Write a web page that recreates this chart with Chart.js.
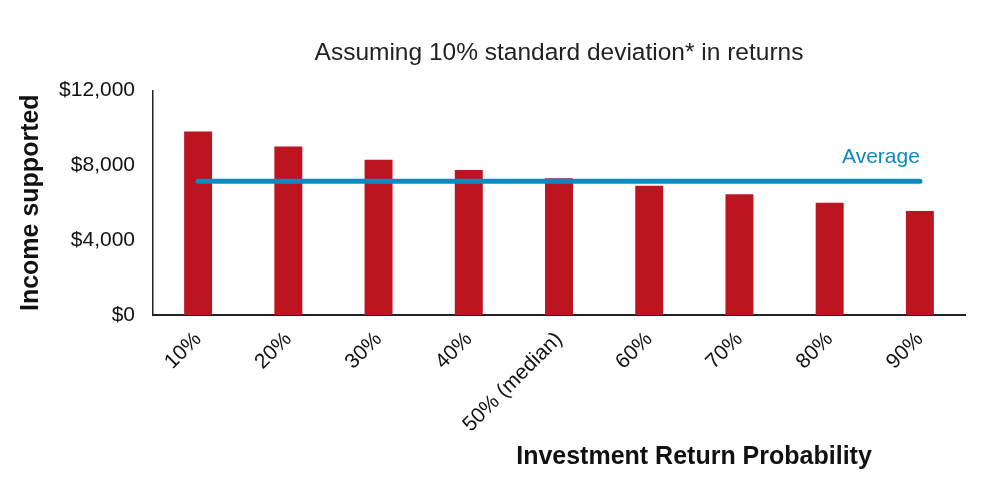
<!DOCTYPE html>
<html>
<head>
<meta charset="utf-8">
<script src="https://cdn.jsdelivr.net/npm/chart.js@4"></script>
<style>
  body { margin: 0; background: #fff; }
  #wrap { width: 1000px; height: 502px; }
</style>
</head>
<body>
<div id="wrap"><canvas id="income-chart"></canvas></div>
<script>
/* Data */
let probabilities = ['10%', '20%', '30%', '40%', '50% (median)', '60%', '70%', '80%', '90%']
let incomeSupported = [9800, 9000, 8300, 7750, 7300, 6900, 6450, 6000, 5550]
let averageIncome = 7150
let yTicks = [0, 4000, 8000, 12000]

let averageLine = probabilities.map(() => averageIncome)

let barRed = '#bd1520'
let averageBlue = '#0b8ac0'

// writes "Average" just above the right end of the average line
let averageLabel = {
    id: 'averageLabel',
    afterDatasetsDraw(chart) {
        let meta = chart.getDatasetMeta(1)
        let last = meta.data[meta.data.length - 1]
        let ctx = chart.ctx
        ctx.save()
        ctx.fillStyle = averageBlue
        ctx.font = '21px "Liberation Sans", Arial, sans-serif'
        ctx.textAlign = 'right'
        ctx.textBaseline = 'middle'
        ctx.fillText('Average', last.x, last.y - 24)
        ctx.restore()
    }
}

// x axis title sits right of centre in the original, so draw it by hand
let xAxisTitle = {
    id: 'xAxisTitle',
    afterDraw(chart) {
        let ctx = chart.ctx
        ctx.save()
        ctx.fillStyle = '#111'
        ctx.font = 'bold 25px "Liberation Sans", Arial, sans-serif'
        ctx.textAlign = 'center'
        ctx.textBaseline = 'middle'
        ctx.fillText('Investment Return Probability', 694, 457)
        ctx.restore()
    }
}

let ctx = document.querySelector('#income-chart').getContext('2d')

let incomeChart = new Chart(ctx, {
    data: {
        labels: probabilities,
        datasets: [{
            type: 'bar',
            label: 'Income supported',
            data: incomeSupported,
            backgroundColor: barRed,
            barPercentage: 0.31,
            categoryPercentage: 1,
            order: 1
        }, {
            type: 'line',
            label: 'Average',
            data: averageLine,
            borderColor: averageBlue,
            borderWidth: 5,
            borderCapStyle: 'round',
            pointRadius: 0,
            order: 0
        }]
    },
    options: {
        responsive: true,
        maintainAspectRatio: false,
        animation: false,
        layout: { padding: { left: 0, right: 35, top: 0, bottom: 0 } },
        plugins: {
            legend: { display: false },
            tooltip: { enabled: false },
            title: {
                display: true,
                fullSize: false,
                text: 'Assuming 10% standard deviation* in returns',
                color: '#222',
                font: { family: '"Liberation Sans", Arial, sans-serif', size: 24.5, weight: 'normal' },
                padding: { top: 39, bottom: 22 }
            }
        },
        scales: {
            x: {
                grid: { display: false, drawTicks: false },
                border: { color: '#222', width: 2 },
                ticks: {
                    color: '#111',
                    font: { family: '"Liberation Sans", Arial, sans-serif', size: 21 },
                    maxRotation: 45,
                    minRotation: 45,
                    padding: 12
                },
                afterFit(scale) { scale.height = 187 }
            },
            y: {
                min: 0,
                max: 12000,
                grid: { display: false, drawTicks: false },
                border: { color: '#222', width: 1.5 },
                afterBuildTicks(scale) { scale.ticks = yTicks.map(v => ({ value: v })) },
                ticks: {
                    color: '#111',
                    font: { family: '"Liberation Sans", Arial, sans-serif', size: 21 },
                    padding: 18,
                    callback: v => '$' + v.toLocaleString('en-US')
                },
                title: {
                    display: true,
                    text: 'Income supported',
                    color: '#111',
                    font: { family: '"Liberation Sans", Arial, sans-serif', size: 25, weight: 'bold' },
                    padding: { top: 16, bottom: 0 }
                },
                afterFit(scale) { scale.width = 153 }
            }
        }
    },
    plugins: [averageLabel, xAxisTitle]
})
</script>
</body>
</html>
